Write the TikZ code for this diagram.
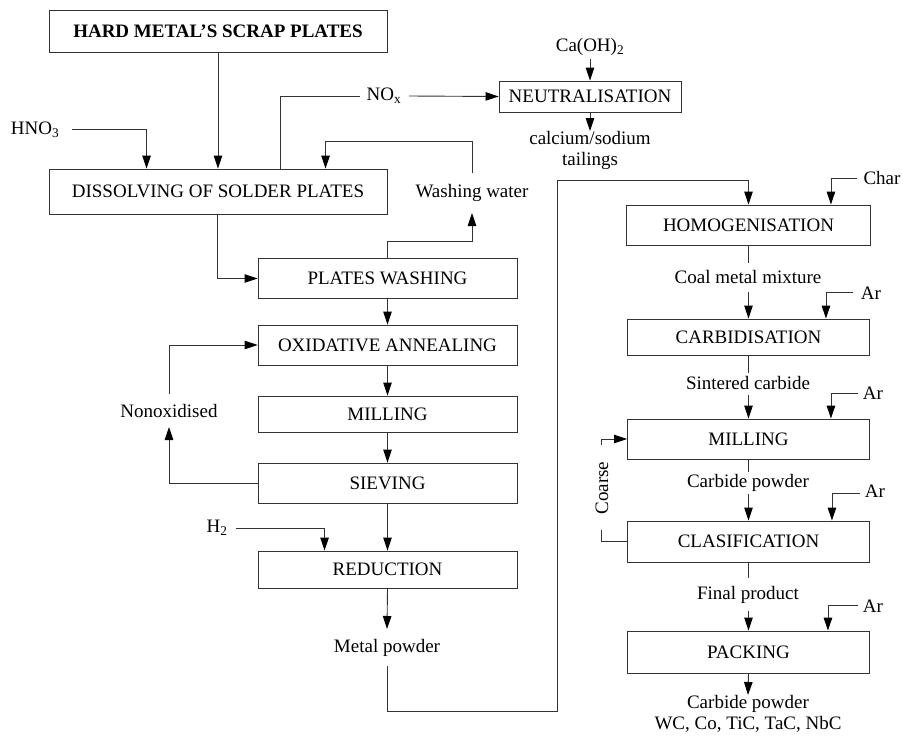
\documentclass[tikz,border=0pt]{standalone}
\usepackage{fontspec}
\setmainfont{Liberation Serif}
\usetikzlibrary{arrows.meta,calc}
\begin{document}
\begin{tikzpicture}[x=1pt,y=-1pt,
  every node/.style={font=\fontsize{19}{21.5}\selectfont},
  proc/.style={draw=black!80, line width=0.9pt, rectangle, inner sep=0pt, align=center},
  lbl/.style={inner sep=0pt, align=center},
  flow/.style={draw=black!80, line width=0.9pt},
  arr/.style={flow, -{Triangle[length=13pt,width=8.5pt,color=black]}}]
\useasboundingbox (0,0) rectangle (903,736);

% process boxes, left branch
\node[proc, minimum width=338pt, minimum height=42pt, font=\fontsize{19}{21.5}\selectfont\bfseries] (hard) at (218,31) {HARD METAL'S SCRAP PLATES};
\node[proc, minimum width=338pt, minimum height=45pt] (dis) at (218,191.5) {DISSOLVING OF SOLDER PLATES};
\node[proc, minimum width=259pt, minimum height=40pt] (wash) at (387.5,278.5) {PLATES WASHING};
\node[proc, minimum width=259pt, minimum height=40pt] (oxi) at (387.5,345) {OXIDATIVE ANNEALING};
\node[proc, minimum width=259pt, minimum height=36pt] (mill) at (387.5,414) {MILLING};
\node[proc, minimum width=259pt, minimum height=40pt] (siev) at (387.5,483) {SIEVING};
\node[proc, minimum width=259pt, minimum height=37pt] (red) at (387.5,569.5) {REDUCTION};
\node[proc, minimum width=182pt, minimum height=31pt] (neut) at (590,96.5) {NEUTRALISATION};

% process boxes, right branch
\node[proc, minimum width=244pt, minimum height=40pt] (homo) at (748.5,225) {HOMOGENISATION};
\node[proc, minimum width=242pt, minimum height=36pt] (carb) at (748.5,337) {CARBIDISATION};
\node[proc, minimum width=242pt, minimum height=40pt] (mil2) at (748.5,439) {MILLING};
\node[proc, minimum width=242pt, minimum height=41pt] (clas) at (748.5,541.5) {CLASIFICATION};
\node[proc, minimum width=242pt, minimum height=42pt] (pack) at (748.5,652) {PACKING};

% stream labels
\node[lbl] (hno) at (35,130) {HNO\textsubscript{3}};
\node[lbl] (nox) at (384,96) {NO\textsubscript{x}};
\node[lbl] (caoh) at (590,47) {Ca(OH)\textsubscript{2}};
\node[lbl, anchor=north] (tail) at (590,131) {calcium/sodium\\tailings};
\node[lbl] (ww) at (472,193) {Washing water};
\node[lbl] (nonox) at (169,411) {Nonoxidised};
\node[lbl] (h2) at (217,528) {H\textsubscript{2}};
\node[lbl] (metal) at (387,648) {Metal powder};
\node[lbl] (char) at (882,178) {Char};
\node[lbl] (coal) at (748,277) {Coal metal mixture};
\node[lbl] (sint) at (748,383) {Sintered carbide};
\node[lbl] (cpow) at (748,483) {Carbide powder};
\node[lbl] (final) at (748,595) {Final product};
\node[lbl, anchor=north] (prod) at (748,695) {Carbide powder\\WC, Co, TiC, TaC, NbC};
\node[lbl] (ar1) at (871,293) {Ar};
\node[lbl] (ar2) at (873,393) {Ar};
\node[lbl] (ar3) at (875,491) {Ar};
\node[lbl] (ar4) at (873,606) {Ar};
\node[lbl, rotate=90] (coarse) at (602,488) {Coarse};

% free ends of the connectors
\coordinate (hnoS) at (72,129);
\coordinate (noxL) at (360,96);
\coordinate (noxR) at (409,96);
\coordinate (wwB) at (472,213);
\coordinate (wwT) at (472,173);
\coordinate (nonB) at (169,427);
\coordinate (nonT) at (169,394);
\coordinate (h2S) at (236,528);
\coordinate (metB) at (387,629);
\coordinate (metT) at (387,666);
\coordinate (charS) at (857,178);
\coordinate (ar1S) at (853,292);
\coordinate (ar2S) at (858,393);
\coordinate (ar3S) at (860,493);
\coordinate (ar4S) at (858,605);
\coordinate (crsB) at (601,530);
\coordinate (crsT) at (601,445);

% left branch
\draw[arr] (hard) -- (dis);
\draw[arr] (hnoS) -| ($(dis.north west)+(98,0)$);
\draw[flow] ($(dis.north west)+(232,0)$) |- (noxL);
\draw[arr] (noxR) -- (neut.west);
\draw[arr] (caoh.south) ++(0,3) -- (neut.north);
\draw[arr] (neut.south) -- (tail.north);
\draw[arr] (wash.north) |- ($(wwB)+(0,28)$) -- (wwB);
\draw[arr] (wwT) |- ($(dis.north west)+(277,-27)$) -- ($(dis.north west)+(277,0)$);
\draw[arr] ($(dis.south west)+(169,0)$) |- (wash.west);
\draw[arr] (wash) -- (oxi);
\draw[arr] (oxi) -- (mill);
\draw[arr] (mill) -- (siev);
\draw[arr] (siev) -- (red);
\draw[arr] (siev.west) -| (nonB);
\draw[arr] (nonT) |- (oxi.west);
\draw[arr] (h2S) -| ($(red.north west)+(67,0)$);
\draw[arr] (red.south) -- (metB);

% transfer of the metal powder to the right branch
\draw[arr] (metT) -- (387,711) -- (557,711) -- (557,180) -| (homo.north);

% right branch
\draw[arr] (charS) -| ($(homo.north east)+(-40,0)$);
\draw[flow] (homo.south) -- ($(homo.south)+(0,18)$);
\draw[arr] ($(carb.north)+(0,-27)$) -- (carb.north);
\draw[arr] (ar1S) -| ($(carb.north east)+(-44,0)$);
\draw[flow] (carb.south) -- ($(carb.south)+(0,18)$);
\draw[arr] ($(mil2.north)+(0,-24)$) -- (mil2.north);
\draw[arr] (ar2S) -| ($(mil2.north east)+(-39,0)$);
\draw[flow] (mil2.south) -- ($(mil2.south)+(0,13)$);
\draw[arr] ($(clas.north)+(0,-27)$) -- (clas.north);
\draw[arr] (ar3S) -| ($(clas.north east)+(-38,0)$);
\draw[flow] (clas.south) -- ($(clas.south)+(0,16)$);
\draw[arr] ($(pack.north)+(0,-20)$) -- (pack.north);
\draw[arr] (ar4S) -| ($(pack.north east)+(-42,0)$);
\draw[arr] (pack.south) -- (prod.north);

% coarse fraction returned to milling
\draw[flow] (clas.west) -| (crsB);
\draw[arr] (crsT) |- (mil2.west);
\end{tikzpicture}
\end{document}
